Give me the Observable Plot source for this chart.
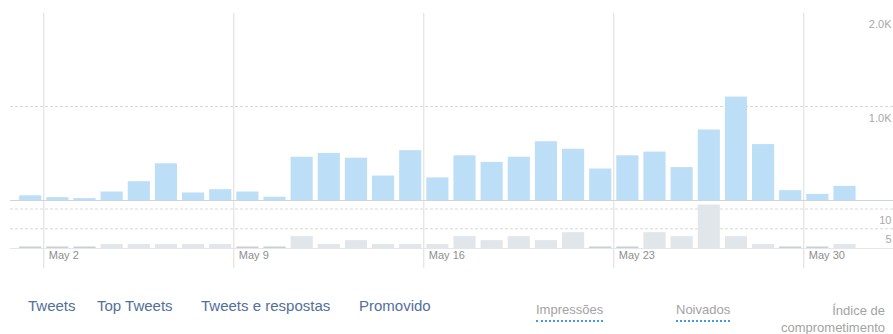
<!DOCTYPE html>
<html>
<head>
<meta charset="utf-8">
<script src="https://cdn.jsdelivr.net/npm/d3@7"></script>
<script src="https://cdn.jsdelivr.net/npm/@observablehq/plot@0.6"></script>
<style>
  html, body { margin: 0; padding: 0; background: #fff; overflow: hidden; }
  #wrap { position: relative; width: 893px; height: 334px; font-family: "Liberation Sans", Arial, sans-serif; }
  #topChart { position: absolute; left: 0; top: 0; }
  #botChart { position: absolute; left: 0; top: 204px; }
  .nav { position: absolute; top: 297px; font-size: 15px; color: #52709a; white-space: nowrap; }
  .leg { position: absolute; font-size: 13px; color: #a3a3a3; white-space: nowrap; }
  .dot { border-bottom: 2px dotted #3b9be6; padding-bottom: 3px; }
</style>
</head>
<body>
<div id="wrap">
  <div id="topChart"></div>
  <div id="botChart"></div>
  <div class="nav" style="left:28px">Tweets</div>
  <div class="nav" style="left:97px">Top Tweets</div>
  <div class="nav" style="left:201px">Tweets e respostas</div>
  <div class="nav" style="left:359px">Promovido</div>
  <div class="leg dot" style="left:536px; top:302px">Impressões</div>
  <div class="leg dot" style="left:676px; top:302px">Noivados</div>
  <div class="leg" style="right:8px; top:302px; text-align:right; line-height:17px">Índice de<br>comprometimento</div>
</div>
<script>
// ---- data ----
const year = 2021;
const dayNumbers = [1,2,3,4,5,6,7,8,9,10,11,12,13,14,15,16,17,18,19,20,21,22,23,24,25,26,27,28,29,30,31];
const impressions = [50,30,20,90,200,390,80,115,90,35,460,500,450,260,530,240,475,405,460,625,545,335,475,515,350,750,1100,595,105,65,150];
const engagements = [0,0,0,1,1,1,1,1,0,0,3,1,2,1,1,1,3,2,3,2,4,0,0,4,3,11,3,1,0,0,1];
const tickDays = [2,9,16,23,30];
const topTicks = [1000, 2000];
const topTickLabels = ["1.0K", "2.0K"];
const botTicks = [5, 10];
const botTickLabels = ["5", "10"];

const day = d3.utcDay;
const dateOf = n => new Date(Date.UTC(year, 4, n));
const data = dayNumbers.map((n, i) => ({date: dateOf(n), impr: impressions[i], eng: engagements[i]}));
const tickDates = tickDays.map(dateOf);

// domain slightly padded on both sides of the month (view window of the original)
const padStartDays = 0.227, padEndDays = 1.305;
const xDomain = [
  new Date(+dateOf(1) - padStartDays * 864e5),
  new Date(+day.offset(dateOf(31), 1) + padEndDays * 864e5)
];

const common = {
  width: 893,
  marginLeft: 10,
  marginRight: 0,
  style: {fontFamily: "Liberation Sans, Arial, sans-serif", fontSize: "11px", background: "transparent", overflow: "visible"}
};

const gridColor = "#dcdcdc";
const baseColor = "#ccd6dd";

const topPlot = Plot.plot({
  ...common,
  height: 204,
  marginTop: 12,
  marginBottom: 4,
  x: {type: "utc", domain: xDomain, axis: null},
  y: {domain: [0, 2000], axis: null},
  marks: [
    Plot.ruleX(tickDates, {x: d => d, stroke: gridColor, strokeWidth: 1, insetTop: 1, insetBottom: -4}),
    Plot.ruleY([1000], {stroke: "#d8d8d8", strokeDasharray: "3,2"}),
    Plot.rect(data, {x1: "date", x2: d => day.offset(d.date, 1), y1: 0, y2: "impr", fill: "#bcdef7", insetLeft: 3, insetRight: 2}),
    Plot.ruleY([0], {stroke: baseColor}),
    Plot.text(topTicks, {y: d => d, text: (d, i) => topTickLabels[i], frameAnchor: "right", textAnchor: "end", dx: -2, dy: 12, fill: "#a8a8a8", fontSize: 11})
  ]
});
document.getElementById("topChart").appendChild(topPlot);

const zeros = data.filter(d => d.eng === 0);
const botPlot = Plot.plot({
  ...common,
  height: 80,
  marginTop: 4.5,
  marginBottom: 36,
  x: {type: "utc", domain: xDomain, axis: null},
  y: {domain: [0, 10], axis: null},
  marks: [
    Plot.ruleX(tickDates, {x: d => d, stroke: gridColor, strokeWidth: 1, insetTop: -4.5, insetBottom: -20}),
    Plot.ruleY(botTicks, {y: d => d, stroke: "#d8d8d8", strokeDasharray: "3,2"}),
    Plot.ruleY([0], {stroke: "#e3e7ea"}),
    Plot.rect(data, {x1: "date", x2: d => day.offset(d.date, 1), y1: 0, y2: "eng", fill: "#e1e6ea", insetLeft: 3, insetRight: 2}),
    Plot.rect(zeros, {x1: "date", x2: d => day.offset(d.date, 1), y1: 0, y2: 0, fill: "#c9cfd4", insetLeft: 3, insetRight: 2, insetTop: -1.5}),
    Plot.text(botTicks, {y: d => d, text: (d, i) => botTickLabels[i], frameAnchor: "right", textAnchor: "end", dx: -2, dy: 11, fill: "#a8a8a8", fontSize: 11}),
    Plot.text(tickDates, {x: d => d, text: d3.utcFormat("%b %-d"), frameAnchor: "bottom", textAnchor: "start", dx: 5, dy: 10, fill: "#8e8e8e", fontSize: 11})
  ]
});
document.getElementById("botChart").appendChild(botPlot);
</script>
</body>
</html>
